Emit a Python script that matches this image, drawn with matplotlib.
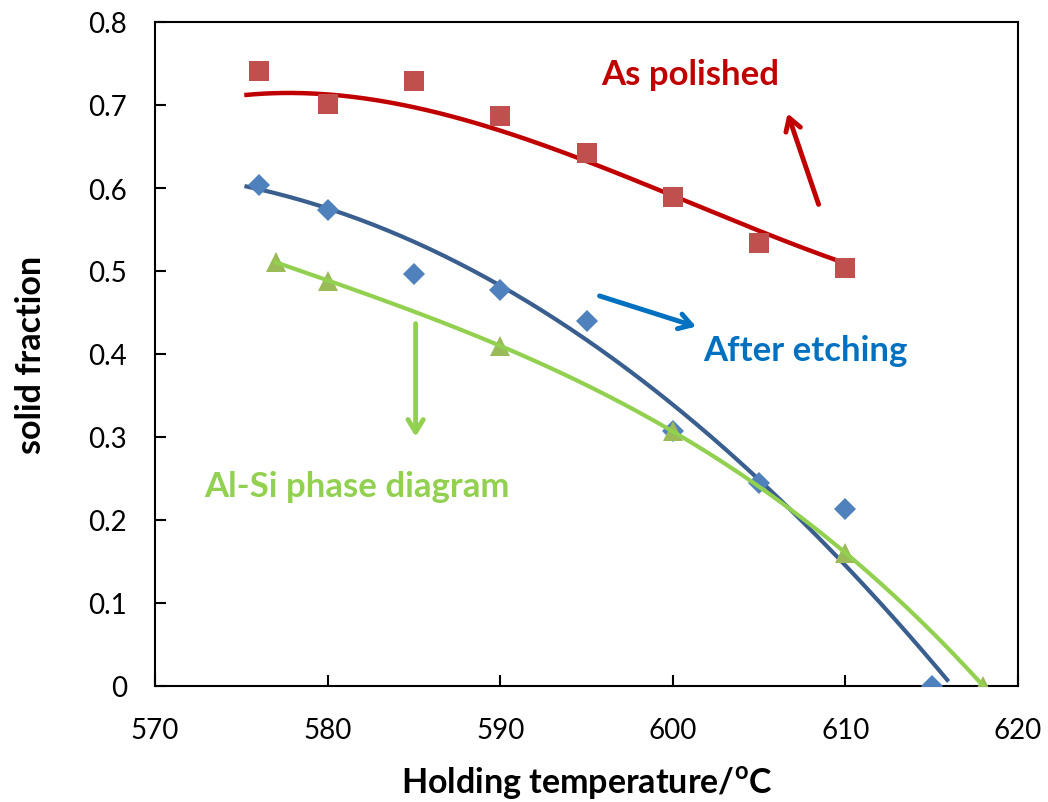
# fracção sólida vs temperatura de manutenção, três séries com linhas de tendência
import numpy as np
import matplotlib
matplotlib.use("Agg")
import matplotlib.pyplot as plt

plt.rcParams["font.family"] = ["Lato", "DejaVu Sans"]

temp_polido = [576, 580, 585, 590, 595, 600, 605, 610]
fs_polido = [0.741, 0.701, 0.729, 0.687, 0.642, 0.589, 0.534, 0.504]

temp_ataque = [576, 580, 585, 590, 595, 600, 605, 610, 615]
fs_ataque = [0.604, 0.573, 0.496, 0.477, 0.440, 0.307, 0.245, 0.213, 0.0]

temp_diagrama = [577, 580, 590, 600, 610, 618]
fs_diagrama = [0.511, 0.488, 0.410, 0.307, 0.160, 0.0]

# curvas de tendência publicadas
temp_tend_polido = [575.3, 580, 585, 590, 595, 600, 605, 610.3]
fs_tend_polido = [0.713, 0.712, 0.695, 0.671, 0.635, 0.589, 0.547, 0.508]

temp_tend_ataque = [575.3, 580, 585, 590, 595, 600, 605, 610, 615.9]
fs_tend_ataque = [0.598, 0.581, 0.539, 0.478, 0.418, 0.330, 0.247, 0.161, 0.0]

XTICKS = [570, 580, 590, 600, 610, 620]
YTICKS = [0, 0.1, 0.2, 0.3, 0.4, 0.5, 0.6, 0.7, 0.8]


def tendencia(x, y, grau, x0, x1):
  coef = np.polyfit(x, y, grau)
  xs = np.linspace(x0, x1, 200)
  return xs, np.polyval(coef, xs)


fig = plt.figure(figsize=(10.48, 8.03), dpi=100)
ax = fig.add_axes([155 / 1048, 1 - 687 / 803, 863 / 1048, 664 / 803])

# linhas de tendência
xs, ys = tendencia(temp_tend_polido, fs_tend_polido, 3,
                   temp_tend_polido[0], temp_tend_polido[-1])
ax.plot(xs, ys, color="#C00000", lw=3.2, zorder=2)
xs, ys = tendencia(temp_tend_ataque, fs_tend_ataque, 2,
                   temp_tend_ataque[0], temp_tend_ataque[-1])
ax.plot(xs, ys, color="#3A5F8F", lw=3, zorder=2)
xs, ys = tendencia(temp_diagrama, fs_diagrama, 3, 577, 618)
ax.plot(xs, ys, color="#92D050", lw=3, zorder=4)

# pontos
ax.plot(temp_polido, fs_polido, "s", color="#C0504D", ms=14.5, mew=0, zorder=3)
ax.plot(temp_ataque, fs_ataque, "D", color="#4F81BD", ms=11, mew=0, zorder=3)
ax.plot(temp_diagrama, fs_diagrama, "^", color="#9BBB59", ms=15, mew=0, zorder=3)

# anotações com setas
seta = dict(arrowstyle="->,head_length=0.9,head_width=0.55", lw=3.5)
ax.annotate("", xy=(606.6, 0.693), xytext=(608.5, 0.577),
            arrowprops=dict(seta, color="#C00000"))
ax.text(601.0, 0.737, "As polished", color="#C00000", fontsize=25,
        fontweight="bold", ha="center", va="center")
ax.annotate("", xy=(601.5, 0.432), xytext=(595.6, 0.471),
            arrowprops=dict(seta, color="#0070C0"))
ax.text(607.7, 0.405, "After etching", color="#0070C0", fontsize=25,
        fontweight="bold", ha="center", va="center")
ax.annotate("", xy=(585.1, 0.297), xytext=(585.1, 0.440),
            arrowprops=dict(seta, color="#92D050"))
ax.text(581.7, 0.241, "Al-Si phase diagram", color="#92D050", fontsize=25,
        fontweight="bold", ha="center", va="center")

ax.set_xlim(570, 620)
ax.set_ylim(0, 0.8)
ax.set_xticks(XTICKS)
ax.set_yticks(YTICKS)
ax.set_yticklabels(["0" if v == 0 else f"{v:.1f}" for v in YTICKS])
ax.tick_params(direction="in", length=8, width=1.5, labelsize=20, pad=20)
ax.tick_params(axis="x", pad=22)
for s in ax.spines.values():
  s.set_linewidth(1.5)

ax.set_xlabel("Holding temperature/$^\\mathregular{o}$C", fontsize=24.5,
              fontweight="bold", labelpad=16)
ax.set_ylabel("solid fraction", fontsize=24.5, fontweight="bold", labelpad=30)

fig.savefig("out.png", dpi=100)
